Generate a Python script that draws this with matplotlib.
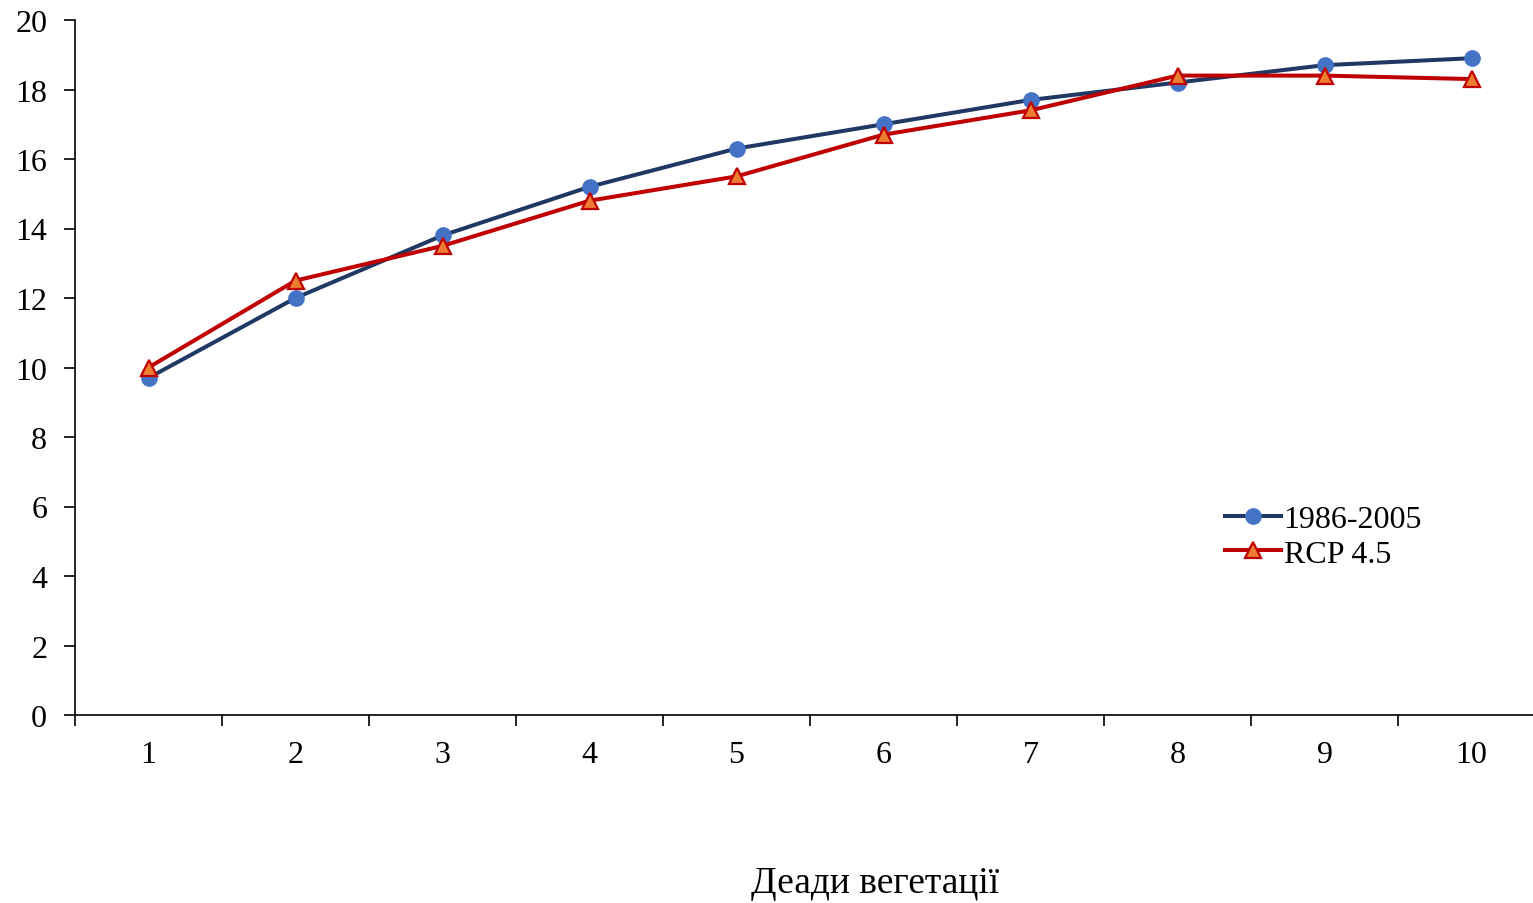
import matplotlib
matplotlib.use("Agg")
import matplotlib.pyplot as plt

# decades of vegetation period
DECADES = [1, 2, 3, 4, 5, 6, 7, 8, 9, 10]
BASE = [9.7, 12.0, 13.8, 15.2, 16.3, 17.0, 17.7, 18.2, 18.7, 18.9]   # 1986-2005
RCP45 = [10.0, 12.5, 13.5, 14.8, 15.5, 16.7, 17.4, 18.4, 18.4, 18.3]  # RCP 4.5
YTICKS = list(range(0, 21, 2))

NAVY, BLUE = "#1F3864", "#4472C4"
RED, ORANGE = "#C00000", "#ED7D31"

plt.rcParams.update({"font.family": ["Liberation Serif", "DejaVu Serif"],
                     "font.size": 23})

fig = plt.figure(figsize=(15.33, 9.04), dpi=100)
ax = fig.add_axes([75 / 1533, 188 / 904, 1470 / 1533, 695 / 904])

ax.plot(DECADES, BASE, color=NAVY, lw=2.9, marker="o", ms=11,
        mfc=BLUE, mec=BLUE, label="1986-2005")
ax.plot(DECADES, RCP45, color=RED, lw=2.9, marker="^", ms=11,
        mfc=ORANGE, mec=RED, mew=1.6, label="RCP 4.5")

ax.set_xlim(0.5, 10.5)
ax.set_ylim(0, 20)
ax.set_yticks(YTICKS)
ax.set_xticks(DECADES)
ax.set_xticks([d + 0.5 for d in [0] + DECADES], minor=True)
ax.tick_params(axis="x", which="major", length=0, pad=18)
ax.tick_params(axis="x", which="minor", length=8, width=1.2, direction="out")
ax.tick_params(axis="y", length=8, width=1.2, direction="out", pad=12)
for s in ("top", "right"):
    ax.spines[s].set_visible(False)
for s in ("left", "bottom"):
    ax.spines[s].set_linewidth(1.2)

ax.legend(loc="upper left", bbox_to_anchor=(1157 / 1470 - 0.005, (716 - 506) / 695),
          frameon=False, handlelength=1.75, handletextpad=0.1, labelspacing=0.15,
          borderaxespad=0, borderpad=0)

fig.text(875 / 1533, 1 - 884 / 904, "Деади вегетації", ha="center", va="center",
         fontsize=27)

fig.savefig("out.png", dpi=100)
